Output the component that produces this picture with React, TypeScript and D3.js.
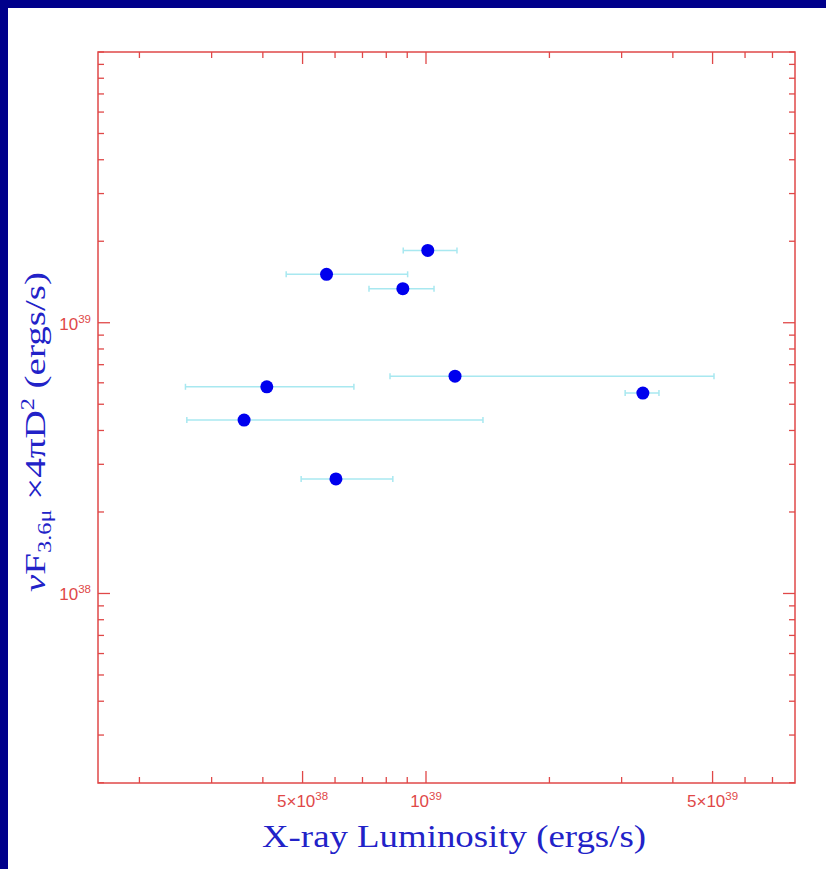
import * as d3 from "d3";

// X-ray luminosity (ergs/s) with x error range, and nu F_3.6 * 4 pi D^2 (ergs/s)
const lx = [1.01e39, 5.72e38, 8.78e38, 4.09e38, 1.177e39, 3.38e39, 3.6e38, 6.03e38];
const lxLow = [8.8e38, 4.56e38, 7.26e38, 2.59e38, 8.17e38, 3.06e39, 2.61e38, 4.96e38];
const lxHigh = [1.19e39, 9.02e38, 1.046e39, 6.67e38, 5.04e39, 3.7e39, 1.377e39, 8.3e38];
const lir = [1.85e39, 1.51e39, 1.336e39, 5.8e38, 6.35e38, 5.5e38, 4.37e38, 2.65e38];

const xDomain = [Math.pow(10, 38.2), Math.pow(10, 39.9)];
const yDomain = [Math.pow(10, 37.3), 1e40];

const xMajor = [5e38, 1e39, 5e39];
const yMajor = [1e38, 1e39];
const xTickLabels = [
  { v: 5e38, mant: "5×", exp: "38" },
  { v: 1e39, mant: "", exp: "39" },
  { v: 5e39, mant: "5×", exp: "39" },
];
const yTickLabels = [
  { v: 1e39, exp: "39" },
  { v: 1e38, exp: "38" },
];

const W = 826;
const H = 869;
const plot = { left: 98, right: 795, top: 52, bottom: 783 };

const axisRed = "#e04848";
const titleBlue = "#2222c8";
const pointBlue = "#0000ee";
const errCyan = "#a8e8f0";

export default function App() {
  const x = d3.scaleLog().domain(xDomain).range([plot.left, plot.right]);
  const y = d3.scaleLog().domain(yDomain).range([plot.bottom, plot.top]);

  const xTicks = x.ticks(10);
  const yTicks = y.ticks(10);
  const isMajor = (list: number[], v: number) =>
    list.some((m) => Math.abs(m - v) / m < 1e-6);

  const minorLen = 6;
  const majorLen = 12;

  return (
    <svg
      width={W}
      height={H}
      style={{ position: "absolute", left: 0, top: 0, display: "block" }}
    >
      <rect x={0} y={0} width={W} height={H} fill="#ffffff" />
      {/* navy frame on left and top */}
      <rect x={0} y={0} width={W} height={8} fill="#00008b" />
      <rect x={0} y={0} width={8} height={H} fill="#00008b" />

      {/* error bars */}
      {lx.map((_, i) => {
        const yy = y(lir[i]);
        const x0 = x(lxLow[i]);
        const x1 = x(lxHigh[i]);
        return (
          <g key={"e" + i} stroke={errCyan} strokeWidth={1.5}>
            <line x1={x0} x2={x1} y1={yy} y2={yy} />
            <line x1={x0} x2={x0} y1={yy - 3} y2={yy + 3} />
            <line x1={x1} x2={x1} y1={yy - 3} y2={yy + 3} />
          </g>
        );
      })}

      {/* points */}
      {lx.map((v, i) => (
        <circle key={"p" + i} cx={x(v)} cy={y(lir[i])} r={6.5} fill={pointBlue} />
      ))}

      {/* frame */}
      <rect
        x={plot.left}
        y={plot.top}
        width={plot.right - plot.left}
        height={plot.bottom - plot.top}
        fill="none"
        stroke={axisRed}
        strokeWidth={1.5}
      />

      {/* x ticks, bottom and top, pointing inward */}
      {xTicks.map((t, i) => {
        const px = x(t);
        const len = isMajor(xMajor, t) ? majorLen : minorLen;
        return (
          <g key={"xt" + i} stroke={axisRed} strokeWidth={1.3}>
            <line x1={px} x2={px} y1={plot.bottom} y2={plot.bottom - len} />
            <line x1={px} x2={px} y1={plot.top} y2={plot.top + len} />
          </g>
        );
      })}

      {/* y ticks, left and right */}
      {yTicks.map((t, i) => {
        const py = y(t);
        const len = isMajor(yMajor, t) ? majorLen : minorLen;
        return (
          <g key={"yt" + i} stroke={axisRed} strokeWidth={1.3}>
            <line x1={plot.left} x2={plot.left + len} y1={py} y2={py} />
            <line x1={plot.right} x2={plot.right - len} y1={py} y2={py} />
          </g>
        );
      })}

      {/* x tick labels */}
      {xTickLabels.map((d, i) => (
        <text
          key={"xl" + i}
          x={x(d.v)}
          y={807}
          textAnchor="middle"
          fill={axisRed}
          fontFamily="Liberation Sans, Arial, sans-serif"
          fontSize={17}
        >
          {d.mant}10
          <tspan fontSize={11.5} dy={-7}>
            {d.exp}
          </tspan>
        </text>
      ))}

      {/* y tick labels */}
      {yTickLabels.map((d, i) => (
        <text
          key={"yl" + i}
          x={91}
          y={y(d.v) + 7}
          textAnchor="end"
          fill={axisRed}
          fontFamily="Liberation Sans, Arial, sans-serif"
          fontSize={17}
        >
          10
          <tspan fontSize={11.5} dy={-7}>
            {d.exp}
          </tspan>
        </text>
      ))}

      {/* axis titles */}
      <text
        x={454}
        y={847}
        textAnchor="middle"
        fill={titleBlue}
        fontFamily="Liberation Serif, DejaVu Serif, serif"
        fontSize={31}
        textLength={384}
        lengthAdjust="spacingAndGlyphs"
      >
        X-ray Luminosity (ergs/s)
      </text>

      <text
        transform="translate(45,432) rotate(-90)"
        textAnchor="middle"
        fill={titleBlue}
        fontFamily="Liberation Serif, DejaVu Serif, serif"
        fontSize={29}
        textLength={320}
        lengthAdjust="spacingAndGlyphs"
      >
        <tspan fontStyle="italic">ν</tspan>F
        <tspan fontSize={18} dy={6}>
          3.6μ
        </tspan>
        <tspan dy={-6}> ×4πD</tspan>
        <tspan fontSize={18} dy={-11}>
          2
        </tspan>
        <tspan dy={11}> (ergs/s)</tspan>
      </text>
    </svg>
  );
}
